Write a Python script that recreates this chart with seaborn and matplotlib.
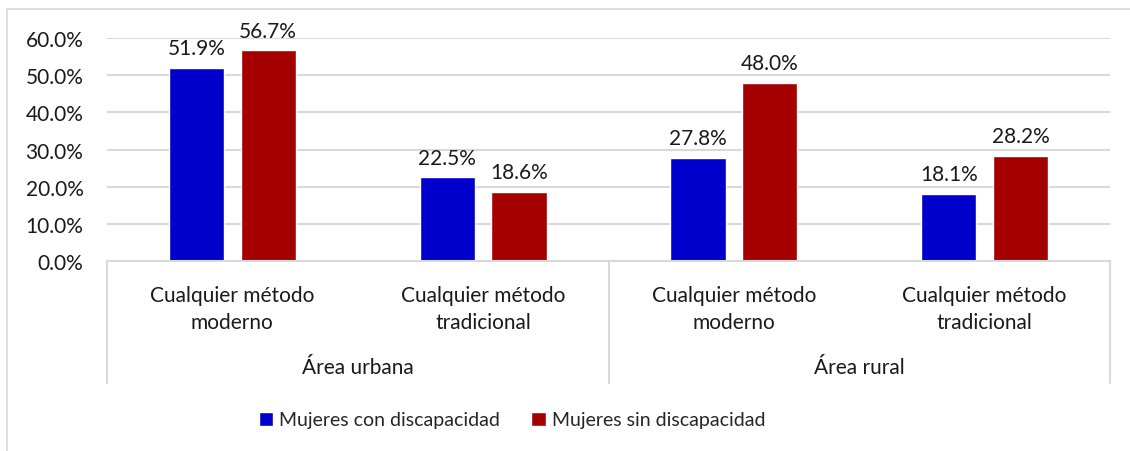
import matplotlib
matplotlib.use("Agg")
import matplotlib.pyplot as plt
import matplotlib.transforms as mtransforms
from matplotlib.ticker import PercentFormatter
from matplotlib.lines import Line2D
import pandas as pd
import seaborn as sns

# data
areas = ["Área urbana", "Área rural"]
metodos = ["Cualquier método\nmoderno", "Cualquier método\ntradicional"]
series = ["Mujeres con discapacidad", "Mujeres sin discapacidad"]
con_disc = [51.9, 22.5, 27.8, 18.1]
sin_disc = [56.7, 18.6, 48.0, 28.2]
colors = ["#0000CC", "#A50000"]

keys = [a + " | " + m for a in areas for m in metodos]
df = pd.DataFrame({
    "cat": keys * 2,
    "serie": [series[0]] * 4 + [series[1]] * 4,
    "valor": con_disc + sin_disc,
})

sns.set_theme(style="white")
plt.rcParams["font.family"] = ["Lato", "DejaVu Sans"]
fs = 15

fig = plt.figure(figsize=(11.3, 4.52), dpi=100)
ax = fig.add_axes([107 / 1130, 1 - 262 / 452, (1110 - 107) / 1130, (262 - 39) / 452])

sns.barplot(data=df, x="cat", y="valor", hue="serie", order=keys, hue_order=series,
            palette=colors, width=0.572, gap=0.23, saturation=1, ax=ax, legend=True)

for cont in ax.containers:
    ax.bar_label(cont, fmt="%.1f%%", padding=7, fontsize=fs, color="#1a1a1a")

ax.set_ylim(0, 60)
ax.set_xlim(-0.5, 3.5)
ax.set_yticks(range(0, 61, 10))
ax.yaxis.set_major_formatter(PercentFormatter(decimals=1))
ax.yaxis.grid(True, color="#D9D9D9", linewidth=1.5)
ax.set_axisbelow(True)
for s in ["top", "right", "left"]:
    ax.spines[s].set_visible(False)
ax.spines["bottom"].set_color("#D9D9D9")
ax.spines["bottom"].set_linewidth(1.5)
ax.tick_params(axis="y", length=0, pad=17, labelsize=fs, labelcolor="#1a1a1a")
ax.tick_params(axis="x", length=0, pad=17, labelsize=fs, labelcolor="#1a1a1a")
ax.set_xticks(range(4))
ax.set_xticklabels(metodos * 2, linespacing=1.45)
ax.set_xlabel("")
ax.set_ylabel("")

# multi-level axis: group labels and separators
trans = mtransforms.blended_transform_factory(ax.transData, ax.transAxes)
sep_bottom = -(384 - 262) / (262 - 39)
for x in [-0.5, 1.5, 3.5]:
    ax.add_line(Line2D([x, x], [0, sep_bottom], transform=trans, color="#D9D9D9",
                       linewidth=1.5, clip_on=False))
lab_y = -(368 - 262) / (262 - 39)
for i, a in enumerate(areas):
    ax.text(i * 2 + 0.5, lab_y, a, transform=trans, ha="center", va="center",
            fontsize=fs, color="#1a1a1a")

# legend
handles, labels = ax.get_legend_handles_labels()
ax.legend(handles, labels, loc="center", bbox_to_anchor=(512 / 1130, 1 - 421 / 452),
          bbox_transform=fig.transFigure, ncol=2, frameon=False, fontsize=14,
          handlelength=0.75, handleheight=0.75, handletextpad=0.3, columnspacing=1.6)

# outer chart border
fig.add_artist(Line2D([7 / 1130, 7 / 1130], [0, 1 - 10 / 452], transform=fig.transFigure,
                      color="#D9D9D9", linewidth=1.2))
fig.add_artist(Line2D([7 / 1130, 1], [1 - 10 / 452, 1 - 10 / 452], transform=fig.transFigure,
                      color="#D9D9D9", linewidth=1.2))

fig.savefig("out.png", dpi=100, facecolor="white")
